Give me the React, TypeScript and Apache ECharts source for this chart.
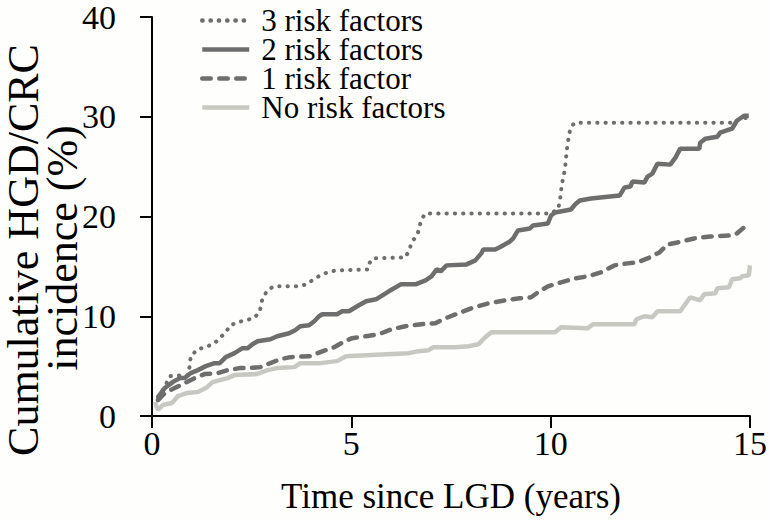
import React, { useEffect, useRef } from "react";
import * as echarts from "echarts";

const seriesNames = ["3 risk factors", "2 risk factors", "1 risk factor", "No risk factors"];
const xAxisTitle = "Time since LGD (years)";
const yAxisTitleLines = ["Cumulative HGD/CRC", "incidence (%)"];

// [years, cumulative incidence %]
const risk3: [number, number][] = [
  [0.15, 1.9], [0.32, 2.9], [0.45, 4.0], [0.9, 4.1], [0.95, 5.1], [0.97, 6.0], [1.15, 6.7],
  [1.35, 6.9], [1.57, 7.3], [1.7, 7.8], [1.85, 8.4], [1.97, 9.1], [2.15, 9.4], [2.35, 9.6],
  [2.55, 9.8], [2.7, 10.4], [2.77, 11.8], [2.9, 12.6], [3.05, 13.0], [3.7, 13.0], [3.87, 13.2],
  [4.02, 13.6], [4.22, 14.1], [4.4, 14.4], [4.62, 14.6], [5.42, 14.7], [5.45, 15.3], [5.54, 15.8],
  [6.36, 15.9], [6.46, 16.7], [6.51, 17.4], [6.64, 18.1], [6.71, 18.8], [6.74, 19.6], [6.86, 20.3],
  [9.98, 20.3], [10.18, 20.7], [10.23, 21.5], [10.28, 23.2], [10.36, 24.8], [10.4, 26.5],
  [10.46, 28.2], [10.51, 29.0], [10.61, 29.4], [14.6, 29.4], [14.75, 29.8], [14.95, 29.9],
];

const risk2: [number, number][] = [
  [0.15, 1.9], [0.32, 2.8], [0.52, 3.4], [0.7, 3.8], [0.82, 3.8], [0.97, 4.3], [1.15, 4.6],
  [1.35, 5.0], [1.57, 5.3], [1.7, 5.3], [1.85, 5.9], [2.07, 6.3], [2.27, 6.8], [2.4, 6.8],
  [2.52, 7.2], [2.65, 7.5], [2.97, 7.7], [3.14, 8.0], [3.44, 8.3], [3.59, 8.6], [3.72, 9.0],
  [3.94, 9.1], [4.07, 9.5], [4.19, 10.0], [4.27, 10.2], [4.64, 10.2], [4.77, 10.5], [4.94, 10.5],
  [5.19, 11.1], [5.37, 11.5], [5.62, 11.7], [5.94, 12.5], [6.24, 13.2], [6.61, 13.2], [6.86, 13.6],
  [7.01, 14.0], [7.14, 14.7], [7.24, 14.5], [7.39, 15.1], [7.89, 15.2], [8.11, 15.6], [8.26, 16.3],
  [8.31, 16.7], [8.61, 16.7], [8.76, 17.0], [8.98, 17.5], [9.06, 17.8], [9.18, 18.6], [9.48, 18.8],
  [9.56, 19.1], [9.93, 19.3], [10.01, 20.1], [10.11, 20.4], [10.51, 20.7], [10.61, 21.2],
  [10.73, 21.6], [11.01, 21.8], [11.73, 22.1], [11.85, 22.9], [12.0, 23.0], [12.05, 23.5],
  [12.35, 23.4], [12.43, 24.0], [12.55, 24.3], [12.68, 25.3], [13.0, 25.2], [13.13, 25.9],
  [13.25, 26.8], [13.73, 26.8], [13.75, 27.4], [13.88, 27.8], [14.18, 28.0], [14.25, 28.4],
  [14.55, 28.8], [14.67, 29.6], [14.85, 30.1], [14.97, 30.1],
];

const risk1: [number, number][] = [
  [0.15, 1.6], [0.35, 2.4], [0.57, 2.8], [0.82, 3.3], [1.07, 3.8], [1.32, 4.2], [1.65, 4.3],
  [1.9, 4.6], [2.2, 4.8], [2.4, 4.8], [2.72, 4.9], [2.97, 5.3], [3.22, 5.7], [3.47, 5.9],
  [3.97, 6.0], [4.22, 6.4], [4.57, 6.9], [4.84, 7.5], [5.02, 7.8], [5.37, 8.0], [5.69, 8.2],
  [6.01, 8.7], [6.36, 9.0], [6.76, 9.2], [7.11, 9.3], [7.36, 9.8], [7.69, 10.3], [8.01, 10.8],
  [8.44, 11.3], [8.86, 11.6], [9.23, 11.8], [9.51, 11.9], [9.68, 12.4], [9.93, 13.0],
  [10.26, 13.4], [10.61, 13.8], [10.93, 14.0], [11.26, 14.4], [11.6, 15.1], [11.93, 15.3],
  [12.18, 15.4], [12.43, 15.8], [12.73, 16.4], [12.93, 17.2], [13.18, 17.4], [13.6, 17.8],
  [14.0, 18.0], [14.55, 18.1], [14.67, 18.3], [14.85, 18.9], [14.97, 19.3],
];

const risk0: [number, number][] = [
  [0.07, 1.4], [0.15, 0.6], [0.27, 1.1], [0.5, 1.3], [0.65, 2.0], [0.87, 2.3], [1.15, 2.4],
  [1.35, 2.8], [1.52, 3.4], [1.7, 3.6], [1.9, 3.8], [2.07, 4.1], [2.62, 4.2], [2.9, 4.6],
  [3.14, 4.8], [3.57, 4.9], [3.72, 5.3], [4.22, 5.3], [4.64, 5.5], [4.87, 6.0], [5.37, 6.1],
  [6.44, 6.3], [6.69, 6.5], [6.94, 6.6], [7.06, 6.9], [7.61, 6.9], [7.94, 7.0], [8.19, 7.2],
  [8.36, 7.9], [8.51, 8.4], [10.11, 8.4], [10.26, 8.9], [10.93, 8.8], [11.06, 9.2], [12.1, 9.2],
  [12.15, 9.7], [12.35, 10.0], [12.55, 9.9], [12.68, 10.5], [13.25, 10.5], [13.5, 11.9],
  [13.75, 11.6], [13.85, 12.2], [14.13, 12.3], [14.18, 12.8], [14.47, 12.9], [14.55, 13.7],
  [14.75, 13.8], [14.8, 14.0], [14.97, 14.1], [15.0, 15.1],
];

const FONT = '"Liberation Serif", "Times New Roman", serif';
const DARK = "#6e6e6e";
const LIGHT = "#c8c8c3";

export default function App() {
  const ref = useRef<HTMLDivElement>(null);

  useEffect(() => {
    const chart = echarts.init(ref.current!, null, { renderer: "svg" });
    const titleStyle = (text: string) => ({
      text,
      fontFamily: FONT,
      fontSize: 44,
      fill: "#000",
      textAlign: "center",
      textVerticalAlign: "middle",
      align: "center",
      verticalAlign: "middle",
    });
    chart.setOption({
      animation: false,
      backgroundColor: "#fefefc",
      textStyle: { fontFamily: FONT, color: "#000" },
      grid: { left: 152, right: 17, top: 15, bottom: 105, containLabel: false },
      legend: {
        orient: "vertical",
        left: 200,
        top: 5,
        padding: 0,
        itemGap: -2,
        itemWidth: 47,
        itemHeight: 14,
        data: seriesNames,
        itemStyle: { opacity: 0, color: "transparent", borderWidth: 0 },
        lineStyle: { width: 4.5 },
        textStyle: { fontFamily: FONT, fontSize: 31, lineHeight: 29, color: "#000", padding: [0, 0, 0, 7] },
      },
      xAxis: {
        type: "value",
        min: 0,
        max: 15,
        interval: 5,
        name: xAxisTitle,
        nameLocation: "middle",
        nameGap: 63,
        nameTextStyle: { fontFamily: FONT, fontSize: 35, color: "#000" },
        axisLine: { show: true, lineStyle: { color: "#000", width: 2 } },
        axisTick: { show: true, length: 12, inside: false, lineStyle: { color: "#000", width: 2 } },
        axisLabel: { fontFamily: FONT, fontSize: 34, color: "#000", margin: 10 },
        splitLine: { show: false },
      },
      yAxis: {
        type: "value",
        min: 0,
        max: 40,
        interval: 10,
        axisLine: { show: true, lineStyle: { color: "#000", width: 2 } },
        axisTick: { show: true, length: 12, inside: false, lineStyle: { color: "#000", width: 2 } },
        axisLabel: { fontFamily: FONT, fontSize: 34, color: "#000", margin: 36 },
        splitLine: { show: false },
      },
      graphic: [
        { type: "text", x: 23, y: 250, rotation: Math.PI / 2, style: titleStyle(yAxisTitleLines[0]) },
        { type: "text", x: 62, y: 248, rotation: Math.PI / 2, style: titleStyle(yAxisTitleLines[1]) },
      ],
      series: [
        {
          name: seriesNames[3],
          type: "line",
          data: risk0,
          symbol: "none",
          lineStyle: { color: LIGHT, width: 4.5 },
          itemStyle: { color: LIGHT },
          z: 2,
        },
        {
          name: seriesNames[2],
          type: "line",
          data: risk1,
          symbol: "none",
          lineStyle: { color: DARK, width: 4.5, type: [8.5, 8.5], cap: "round" },
          itemStyle: { color: DARK },
          z: 3,
        },
        {
          name: seriesNames[1],
          type: "line",
          data: risk2,
          symbol: "none",
          lineStyle: { color: DARK, width: 4.5 },
          itemStyle: { color: DARK },
          z: 4,
        },
        {
          name: seriesNames[0],
          type: "line",
          data: risk3,
          symbol: "none",
          lineStyle: { color: DARK, width: 4, type: [0.3, 8], cap: "round" },
          itemStyle: { color: DARK },
          z: 5,
        },
      ],
    });
    return () => chart.dispose();
  }, []);

  return (
    <div
      ref={ref}
      style={{ position: "absolute", left: 0, top: 0, width: 770, height: 521 }}
    />
  );
}
